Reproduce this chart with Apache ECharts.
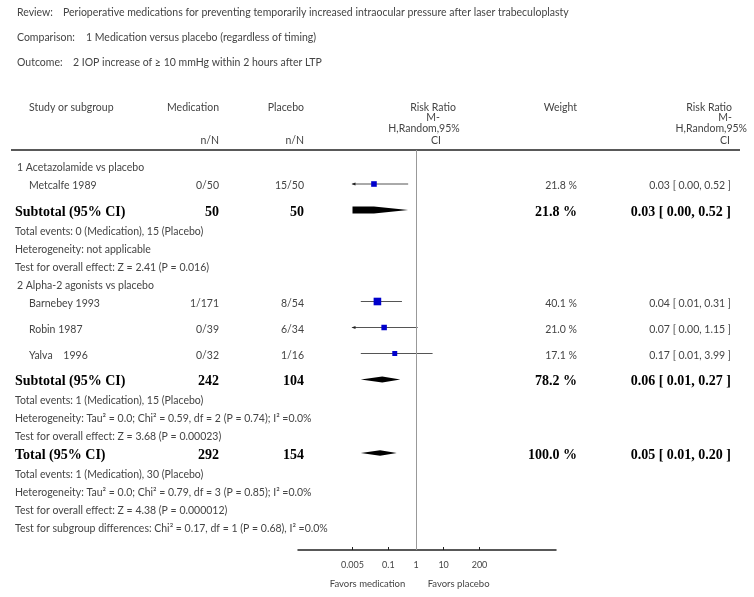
<!DOCTYPE html>
<html><head><meta charset="utf-8">
<script src="https://cdn.jsdelivr.net/npm/echarts@6/dist/echarts.min.js"></script>
<style>html,body{margin:0;padding:0;background:#fff}#c{width:754px;height:597px}</style>
</head><body><div id="c"></div>
<script>
// ---------- data ----------
const titleLabels = ['Review:', 'Comparison:', 'Outcome:'];
const titleTexts = [
  'Perioperative medications for preventing temporarily increased intraocular pressure after laser trabeculoplasty',
  '1 Medication versus placebo (regardless of timing)',
  '2 IOP increase of \u2265 10 mmHg within 2 hours after LTP'
];
const groupNames = ['1 Acetazolamide vs placebo', '2 Alpha-2 agonists vs placebo'];
const studies = ['Metcalfe 1989', 'Barnebey 1993', 'Robin 1987', 'Yalva    1996'];
const studyGroup = [0, 1, 1, 1];
const medNN = ['0/50', '1/171', '0/39', '0/32'];
const plaNN = ['15/50', '8/54', '6/34', '1/16'];
const weights = [21.8, 40.1, 21.0, 17.1];
const rr = [0.03, 0.04, 0.07, 0.17];
const rrLo = [0.00, 0.01, 0.00, 0.01];
const rrHi = [0.52, 0.31, 1.15, 3.99];

const subMed = [50, 242];
const subPla = [50, 104];
const subWeight = [21.8, 78.2];
const subRR = [0.03, 0.06];
const subLo = [0.00, 0.01];
const subHi = [0.52, 0.27];
const subNotes = [
  ['Total events: 0 (Medication), 15 (Placebo)',
   'Heterogeneity: not applicable',
   'Test for overall effect: Z = 2.41 (P = 0.016)'],
  ['Total events: 1 (Medication), 15 (Placebo)',
   'Heterogeneity: Tau\u00b2 = 0.0; Chi\u00b2 = 0.59, df = 2 (P = 0.74); I\u00b2 =0.0%',
   'Test for overall effect: Z = 3.68 (P = 0.00023)']
];
const totMed = 292, totPla = 154, totWeight = 100.0;
const totRR = 0.05, totLo = 0.01, totHi = 0.20;
const totNotes = [
  'Total events: 1 (Medication), 30 (Placebo)',
  'Heterogeneity: Tau\u00b2 = 0.0; Chi\u00b2 = 0.79, df = 3 (P = 0.85); I\u00b2 =0.0%',
  'Test for overall effect: Z = 4.38 (P = 0.000012)',
  'Test for subgroup differences: Chi\u00b2 = 0.17, df = 1 (P = 0.68), I\u00b2 =0.0%'
];
const tickValues = [0.005, 0.1, 1, 10, 200];
const tickLabels = ['0.005', '0.1', '1', '10', '200'];
const favorLeft = 'Favors medication', favorRight = 'Favors placebo';

// ---------- row layout ----------
const rows = [];
let yy = 150, prev = 'top';
function addRow(r) {
  let gap = 18;
  if (r.kind === 'study') gap = (prev === 'study') ? 26 : 18;
  else if (r.kind === 'subtotal') gap = 26;
  else if (r.kind === 'note') gap = (prev === 'subtotal' || prev === 'total') ? 19.5 : 18;
  yy += gap; r.y = yy; prev = r.kind; rows.push(r);
}
for (let g = 0; g < groupNames.length; g++) {
  addRow({kind: 'group', g});
  studies.forEach((s, i) => { if (studyGroup[i] === g) addRow({kind: 'study', i}); });
  addRow({kind: 'subtotal', g});
  subNotes[g].forEach(t => addRow({kind: 'note', text: t}));
}
addRow({kind: 'total'});
totNotes.forEach(t => addRow({kind: 'note', text: t}));

// ---------- helpers ----------
const L10 = v => Math.log10(v);
const clipMin = L10(tickValues[0]), clipMax = L10(tickValues[tickValues.length - 1]);
const clampL = v => (v <= 0) ? clipMin : Math.min(clipMax, Math.max(clipMin, L10(v)));
const isClipLo = v => (v <= 0 || L10(v) < clipMin) ? 1 : 0;
const f2 = v => v.toFixed(2);
const ciText = (e, l, h) => f2(e) + ' [ ' + f2(l) + ', ' + f2(h) + ' ]';

// custom series data: [logEst, logLo, logHi, y, weight, kind(0 study/1 diamond), loClipped, diamondHalfHeight]
const markData = [];
rows.forEach(r => {
  if (r.kind === 'study') {
    const i = r.i;
    markData.push([L10(rr[i]), clampL(rrLo[i]), clampL(rrHi[i]), r.y, weights[i], 0, isClipLo(rrLo[i]), 0]);
  } else if (r.kind === 'subtotal') {
    const g = r.g;
    markData.push([L10(subRR[g]), clampL(subLo[g]), clampL(subHi[g]), r.y, subWeight[g], 1, isClipLo(subLo[g]), g === 0 ? 3.5 : 3]);
  } else if (r.kind === 'total') {
    markData.push([L10(totRR), clampL(totLo), clampL(totHi), r.y, totWeight, 1, isClipLo(totLo), 2.8]);
  }
});

function renderItem(params, api) {
  const y = api.value(3) - 2;
  const c = api.coord([api.value(0), y]);
  const lo = api.coord([api.value(1), y]);
  const hi = api.coord([api.value(2), y]);
  const kind = api.value(5);
  const clipped = api.value(6);
  const children = [];
  if (kind === 0) {
    children.push({type: 'line', shape: {x1: lo[0], y1: y, x2: hi[0], y2: y}, style: {stroke: '#555', lineWidth: 1}});
    if (clipped) {
      children.push({type: 'polygon', shape: {points: [[lo[0] - 1, y], [lo[0] + 3, y - 1.6], [lo[0] + 3, y + 1.6]]}, style: {fill: '#222'}});
    }
    const s = 1.2 * Math.sqrt(api.value(4));
    children.push({type: 'rect', shape: {x: c[0] - s / 2, y: y - s / 2, width: s, height: s}, style: {fill: '#0000CC'}});
  } else {
    const h = api.value(7);
    const pts = clipped
      ? [[lo[0], y - h], [c[0], y - h], [hi[0], y], [c[0], y + h], [lo[0], y + h]]
      : [[lo[0], y], [c[0], y - h], [hi[0], y], [c[0], y + h]];
    children.push({type: 'polygon', shape: {points: pts}, style: {fill: '#000'}});
  }
  return {type: 'group', children};
}

const chart = echarts.init(document.getElementById('c'), null, {renderer: 'canvas'});
const gridLeft = 298, gridRight = 556, nullX = 416, pxPerDecade = 27.6;
const xMin = (gridLeft - nullX) / pxPerDecade, xMax = (gridRight - nullX) / pxPerDecade;

chart.setOption({
  animation: false,
  grid: {left: gridLeft, width: gridRight - gridLeft, top: 150, height: 400, containLabel: false},
  xAxis: {
    type: 'value', min: xMin, max: xMax, position: 'bottom',
    axisLine: {show: true, onZero: false, lineStyle: {color: '#222', width: 1.5}},
    axisTick: {show: true, inside: true, length: 3, customValues: tickValues.map(L10), lineStyle: {color: '#222'}},
    axisLabel: {
      show: true, customValues: tickValues.map(L10), margin: 11,
      fontFamily: 'Lato', fontSize: 9, color: '#444',
      formatter: v => {
        let best = 0;
        tickValues.forEach((t, k) => { if (Math.abs(L10(t) - v) < Math.abs(L10(tickValues[best]) - v)) best = k; });
        return tickLabels[best];
      }
    },
    splitLine: {show: false}
  },
  yAxis: {type: 'value', min: 150, max: 550, inverse: true, show: false},
  series: [{
    type: 'custom', renderItem, data: markData, silent: true, clip: false,
    encode: {x: [0, 1, 2], y: 3},
    markLine: {silent: true, symbol: 'none', label: {show: false},
      lineStyle: {color: '#999', width: 1, type: 'solid'}, data: [{xAxis: 0}]}
  }]
});

// ---------- text (table) ----------
const SANS = 'Lato';
const SERIF = '"Liberation Serif", "DejaVu Serif", serif';
const texts = [];
function T(text, x, y, opt) {
  opt = opt || {};
  const bold = !!opt.bold;
  texts.push({
    type: 'text', silent: true,
    style: {
      text, x, y,
      fill: opt.color || (bold ? '#000' : '#444'),
      fontFamily: bold ? SERIF : SANS,
      fontWeight: bold ? 'bold' : 'normal',
      fontSize: opt.size || (bold ? 14 : 10.5),
      align: opt.align || 'left', textAlign: opt.align || 'left',
      verticalAlign: 'middle', textVerticalAlign: 'middle'
    }
  });
}
const py = y => chart.convertToPixel({yAxisIndex: 0}, y);
const titleX = [63, 86, 73], titleY = [13, 38, 63];
titleLabels.forEach((t, k) => { T(t, 17, titleY[k]); T(titleTexts[k], titleX[k], titleY[k]); });

// header
T('Study or subgroup', 29, 108);
T('Medication', 219, 108, {align: 'right'});
T('Placebo', 304, 108, {align: 'right'});
T('n/N', 219, 141, {align: 'right'});
T('n/N', 304, 141, {align: 'right'});
T('Risk Ratio', 433, 108, {align: 'center'});
T('M-', 433, 118, {align: 'center'});
T('H,Random,95%', 424, 129, {align: 'center'});
T('CI', 436, 141, {align: 'center'});
T('Weight', 577, 108, {align: 'right'});
T('Risk Ratio', 732, 108, {align: 'right'});
T('M-', 732, 118, {align: 'right'});
T('H,Random,95%', 747, 129, {align: 'right'});
T('CI', 730, 141, {align: 'right'});

rows.forEach(r => {
  const y = py(r.y);
  if (r.kind === 'group') T(groupNames[r.g], 17, y);
  else if (r.kind === 'study') {
    const i = r.i;
    T(studies[i], 29, y);
    T(medNN[i], 219, y, {align: 'right'});
    T(plaNN[i], 304, y, {align: 'right'});
    T(weights[i].toFixed(1) + ' %', 577, y, {align: 'right'});
    T(ciText(rr[i], rrLo[i], rrHi[i]), 731, y, {align: 'right'});
  } else if (r.kind === 'subtotal') {
    const g = r.g;
    T('Subtotal (95% CI)', 15, y, {bold: true});
    T(String(subMed[g]), 219, y, {bold: true, align: 'right'});
    T(String(subPla[g]), 304, y, {bold: true, align: 'right'});
    T(subWeight[g].toFixed(1) + ' %', 577, y, {bold: true, align: 'right'});
    T(ciText(subRR[g], subLo[g], subHi[g]), 731, y, {bold: true, align: 'right'});
  } else if (r.kind === 'total') {
    T('Total (95% CI)', 15, y, {bold: true});
    T(String(totMed), 219, y, {bold: true, align: 'right'});
    T(String(totPla), 304, y, {bold: true, align: 'right'});
    T(totWeight.toFixed(1) + ' %', 577, y, {bold: true, align: 'right'});
    T(ciText(totRR, totLo, totHi), 731, y, {bold: true, align: 'right'});
  } else if (r.kind === 'note') T(r.text, 15, y);
});

// favours labels (positioned via the x scale)
const fx = v => chart.convertToPixel({xAxisIndex: 0}, v);
T(favorLeft, fx(L10(tickValues[0])) + 15, 584, {align: 'center', size: 9.5});
T(favorRight, fx(L10(tickValues[3])) + 15, 584, {align: 'center', size: 9.5});

// header rule
texts.push({type: 'line', silent: true, shape: {x1: 11, y1: 150, x2: 740, y2: 150}, style: {stroke: '#222', lineWidth: 1.5}});

chart.setOption({graphic: {elements: texts}});
</script>
</body></html>
